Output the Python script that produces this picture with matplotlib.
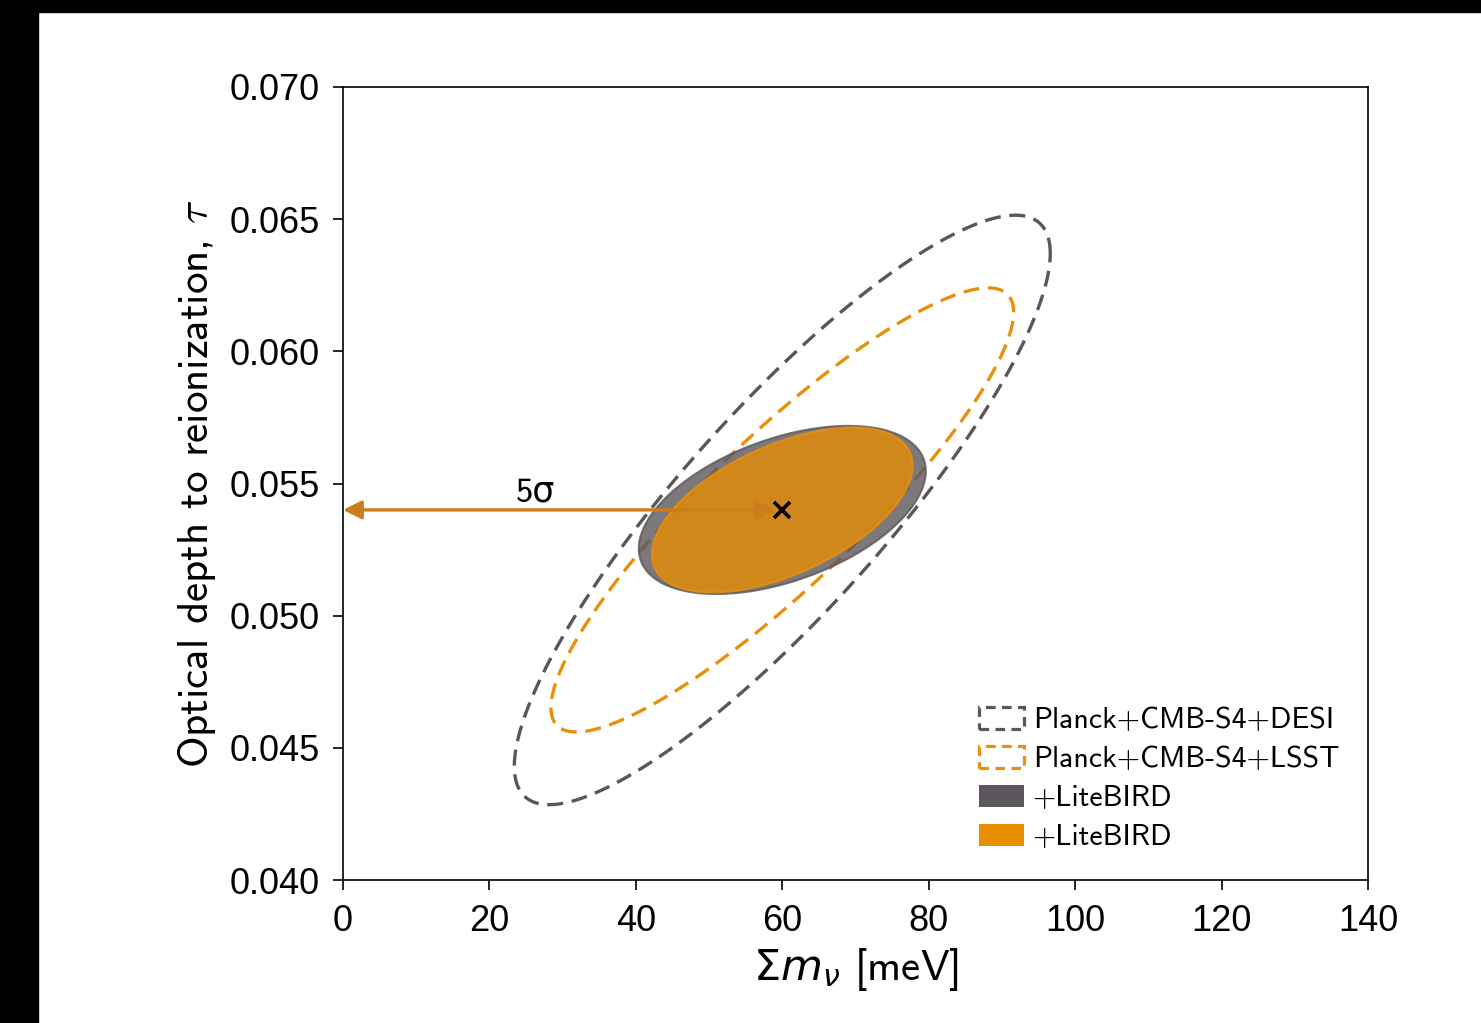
import matplotlib
matplotlib.use("Agg")
import matplotlib.pyplot as plt
from matplotlib.patches import Polygon, Rectangle
import numpy as np

plt.rcParams['mathtext.fontset'] = 'cm'
plt.rcParams['axes.unicode_minus'] = False

# fiducial point
center = (60.0, 0.054)

# forecast contours: half-extent in sum of masses, half-extent in tau, correlation
labels = ['Planck+CMB-S4+DESI', 'Planck+CMB-S4+LSST', '+LiteBIRD', '+LiteBIRD']
half_mnu = [36.6, 31.6, 19.6, 17.8]
half_tau = [0.01115, 0.0084, 0.00318, 0.00312]
rho = [0.87, 0.89, 0.46, 0.54]

xticks = [0, 20, 40, 60, 80, 100, 120, 140]
yticks = [0.040, 0.045, 0.050, 0.055, 0.060, 0.065, 0.070]

gray_line = '#5a565a'
orange_line = '#e8900a'
sans_cm = ['cmss10', 'DejaVu Sans']


def ellipse_pts(i, n=400):
    t = np.linspace(0, 2 * np.pi, n)
    x = center[0] + half_mnu[i] * np.cos(t)
    y = center[1] + half_tau[i] * (rho[i] * np.cos(t) + np.sqrt(1 - rho[i] ** 2) * np.sin(t))
    return np.column_stack([x, y])


fig = plt.figure(figsize=(14.81, 10.23), dpi=100)
# dark frame along top and left edge
fig.patches.append(Rectangle((0, 0), 38 / 1481, 1, transform=fig.transFigure, color='black', zorder=10))
fig.patches.append(Rectangle((0, 1 - 12 / 1023), 1, 12 / 1023, transform=fig.transFigure, color='black', zorder=10))

ax = fig.add_axes([343 / 1481, 1 - 880 / 1023, 1025 / 1481, 793 / 1023])

styles = [
    dict(fill=False, edgecolor=gray_line, lw=2.4, linestyle=(0, (4.8, 2.6))),
    dict(fill=False, edgecolor=orange_line, lw=2.4, linestyle=(0, (4.8, 2.6))),
    dict(facecolor='#5b565b', alpha=0.8, edgecolor=gray_line, lw=1.5),
    dict(facecolor='#e08a0a', alpha=0.85, edgecolor=orange_line, lw=1.5),
]
for i in range(4):
    ax.add_patch(Polygon(ellipse_pts(i), closed=True, label=labels[i], zorder=2 + i, **styles[i]))

# legend swatches
leg_handles = [
    Rectangle((0, 0), 1, 1, fill=False, edgecolor=gray_line, lw=2.3, linestyle=(0, (3, 2))),
    Rectangle((0, 0), 1, 1, fill=False, edgecolor=orange_line, lw=2.3, linestyle=(0, (3, 2))),
    Rectangle((0, 0), 1, 1, facecolor='#5c575c', edgecolor='none'),
    Rectangle((0, 0), 1, 1, facecolor='#e88f00', edgecolor='none'),
]

ax.plot(center[0], center[1], marker='x', color='black', ms=11, mew=2.6, zorder=10)

# distance of the fiducial point from zero mass
ax.annotate('', xy=(0, center[1]), xytext=center,
            arrowprops=dict(arrowstyle='<|-|>', color='#cc7e1d', lw=2.4,
                            mutation_scale=28, shrinkA=5, shrinkB=0),
            zorder=9)
ax.text(26.3, 0.05465, '5σ', fontsize=25, family=sans_cm, ha='center', va='center')

ax.set_xlim(0, 140)
ax.set_ylim(0.040, 0.070)
ax.set_xticks(xticks)
ax.set_yticks(yticks)
ax.set_yticklabels([f'{v:.3f}' for v in yticks])
ax.tick_params(axis='both', direction='out', length=7, width=1.2, labelsize=26,
               labelfontfamily='Liberation Sans')
ax.tick_params(axis='x', pad=10)
ax.tick_params(axis='y', pad=10)
for s in ax.spines.values():
    s.set_linewidth(1.2)

ax.set_xlabel(r'$\Sigma m_{\nu}$ [meV]', fontsize=31, family='cmss10',
              math_fontfamily='dejavusans', labelpad=5)
ax.set_ylabel(r'Optical depth to reionization, $\tau$', fontsize=31, family='cmss10', labelpad=8)

ax.legend(leg_handles, labels, loc='lower left', bbox_to_anchor=(0.6205, 0.036),
          frameon=False, prop={'family': 'cmss10', 'size': 21.5},
          handlelength=1.5, handleheight=0.72, handletextpad=0.3,
          labelspacing=0.4, borderpad=0, borderaxespad=0)

fig.savefig('out.png', dpi=100, facecolor='white')
